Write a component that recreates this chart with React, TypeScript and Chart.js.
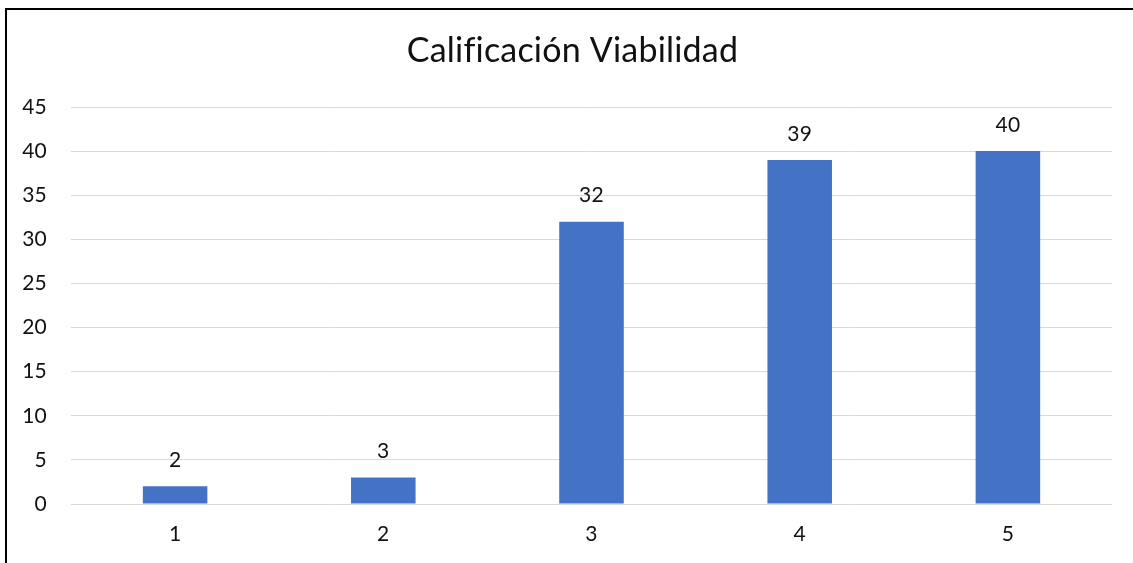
import React, { useEffect, useRef } from "react";
import { Chart, registerables } from "chart.js";

Chart.register(...registerables);

const categories = ["1", "2", "3", "4", "5"];
const counts = [2, 3, 32, 39, 40];
const yMin = 0;
const yMax = 45;
const yStep = 5;
const titleText = "Calificación Viabilidad";

const FONT = "Lato, 'Open Sans', sans-serif";
const TEXT = "#111111";

const noLigatures = {
  id: "noLigatures",
  beforeDraw(chart: any) {
    const ctx: any = chart.ctx;
    try {
      ctx.letterSpacing = "0.2px";
      ctx.textRendering = "optimizeSpeed";
    } catch (e) {}
  },
};

// centre the title on the whole chart frame rather than on the padded area
const titleShift = {
  id: "titleShift",
  afterLayout(chart: any) {
    const t = chart.titleBlock;
    if (t) {
      t.left = 26;
    }
  },
};

const dataLabels = {
  id: "dataLabels",
  afterDatasetsDraw(chart: any) {
    const ctx = chart.ctx;
    const meta = chart.getDatasetMeta(0);
    ctx.save();
    ctx.font = `21px ${FONT}`;
    ctx.fillStyle = TEXT;
    ctx.textAlign = "center";
    ctx.textBaseline = "middle";
    meta.data.forEach((el: any, i: number) => {
      ctx.fillText(String(chart.data.datasets[0].data[i]), el.x, el.y - 26);
    });
    ctx.restore();
  },
};

export default function App() {
  const ref = useRef<HTMLCanvasElement | null>(null);
  useEffect(() => {
    if (!ref.current) return;
    const chart = new Chart(ref.current, {
      type: "bar",
      data: {
        labels: categories,
        datasets: [
          {
            data: counts,
            backgroundColor: "#4472C4",
            borderWidth: 0,
            barPercentage: 0.31,
            categoryPercentage: 1,
          },
        ],
      },
      options: {
        animation: false,
        responsive: false,
        maintainAspectRatio: false,
        layout: { padding: { top: 0, left: 0, right: 21, bottom: 0 } },
        plugins: {
          legend: { display: false },
          tooltip: { enabled: false },
          title: {
            display: true,
            text: titleText,
            color: TEXT,
            font: { family: FONT, size: 34, weight: "normal" as any, lineHeight: 1.2 },
            padding: { top: 21, bottom: 35.2 },
          },
        },
        scales: {
          x: {
            grid: { display: false },
            border: { display: false },
            ticks: {
              color: TEXT,
              font: { family: FONT, size: 21 },
              padding: 10,
            },
            afterFit: (s: any) => {
              s.height = 59;
            },
          },
          y: {
            min: yMin,
            max: yMax,
            grid: { color: "#d9d9d9", lineWidth: 1, drawTicks: false },
            border: { display: false },
            ticks: {
              stepSize: yStep,
              color: TEXT,
              font: { family: FONT, size: 21 },
              padding: 24,
            },
            afterFit: (s: any) => {
              s.width = 64;
            },
          },
        } as any,
      },
      plugins: [noLigatures, titleShift, dataLabels],
    });
    return () => chart.destroy();
  }, []);

  return (
    <div
      style={{
        position: "absolute",
        left: 5,
        top: 8,
        width: 1128,
        height: 555,
        boxSizing: "border-box",
        borderLeft: "2px solid #000",
        borderTop: "2px solid #000",
        background: "#fff",
        overflow: "hidden",
      }}
    >
      <canvas ref={ref} width={1126} height={553} style={{ display: "block", width: 1126, height: 553 }} />
    </div>
  );
}
